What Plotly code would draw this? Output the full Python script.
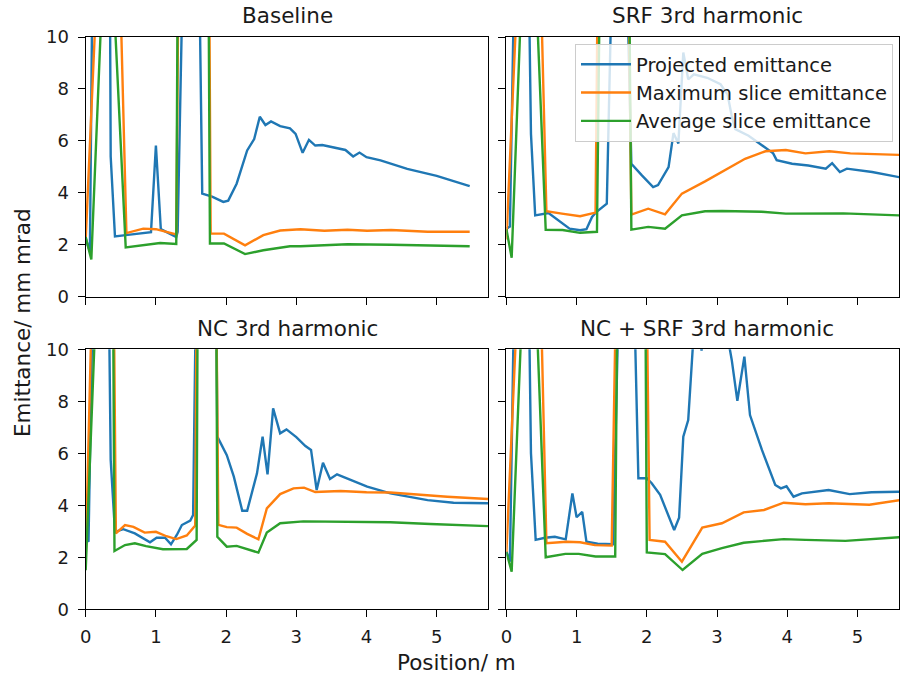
import plotly.graph_objects as go

# ---------------- data (position in m, emittance in mm mrad) ----------------
series_names = ["Projected emittance", "Maximum slice emittance", "Average slice emittance"]
panel_titles = ["Baseline", "SRF 3rd harmonic", "NC 3rd harmonic", "NC + SRF 3rd harmonic"]

# Baseline
base_proj_x = [0, 0.06, 0.095, 0.345, 0.356, 0.417, 0.6, 0.85, 0.93, 1.0, 1.07, 1.29, 1.31, 1.38, 1.62, 1.66,
               1.8, 1.96, 2.03, 2.15, 2.3, 2.4, 2.48, 2.56, 2.64, 2.77, 2.91, 2.99, 3.03, 3.09, 3.18, 3.27,
               3.37, 3.5, 3.7, 3.81, 3.9, 4.0, 4.2, 4.58, 4.75, 5.0, 5.47]
base_proj_y = [2.25, 1.73, 12, 12, 5.4, 2.32, 2.38, 2.45, 2.48, 5.82, 2.6, 2.3, 2.5, 12, 12, 3.97,
               3.85, 3.65, 3.7, 4.35, 5.63, 6.07, 6.93, 6.61, 6.75, 6.57, 6.48, 6.27, 5.95, 5.54, 6.04, 5.82,
               5.84, 5.76, 5.65, 5.4, 5.55, 5.37, 5.25, 4.92, 4.81, 4.65, 4.26]
base_max_x = [0, 0.16, 0.49, 0.58, 0.82, 1.0, 1.29, 1.32, 1.76, 1.78, 1.97, 2.27, 2.53, 2.77, 3.06, 3.4,
              3.73, 4.01, 4.35, 4.87, 5.47]
base_max_y = [2.2, 12, 12, 2.45, 2.62, 2.6, 2.4, 12, 12, 2.43, 2.43, 1.98, 2.37, 2.55, 2.6, 2.54,
              2.58, 2.54, 2.57, 2.5, 2.5]
base_avg_x = [0, 0.08, 0.24, 0.39, 0.57, 0.82, 1.06, 1.29, 1.31, 1.75, 1.77, 1.97, 2.27, 2.53, 2.91,
              3.06, 3.73, 4.35, 5.47]
base_avg_y = [2.3, 1.43, 12, 12, 1.9, 2.0, 2.07, 2.03, 12, 12, 2.05, 2.05, 1.64, 1.79, 1.94,
              1.94, 2.02, 2.0, 1.94]

# SRF 3rd harmonic
srf_proj_x = [0, 0.05, 0.11, 0.32, 0.35, 0.41, 0.6, 0.74, 0.9, 1.05, 1.14, 1.22, 1.28, 1.43, 1.5, 1.72,
              1.78, 1.93, 2.09, 2.16, 2.31, 2.38, 2.45, 2.52, 2.59, 2.67, 2.86, 3.05, 3.15, 3.21, 3.26,
              3.45, 3.62, 3.8, 3.85, 4.07, 4.3, 4.55, 4.64, 4.75, 4.85, 5.21, 5.6]
srf_proj_y = [2.62, 2.7, 12, 12, 6.27, 3.13, 3.22, 2.94, 2.62, 2.56, 2.6, 3.07, 3.26, 3.58, 12, 12,
              5.12, 4.67, 4.22, 4.3, 4.99, 6.3, 5.9, 9.4, 8.37, 8.56, 8.43, 8.18, 7.79, 6.96, 6.45,
              6.2, 5.88, 5.52, 5.26, 5.12, 5.05, 4.93, 5.14, 4.8, 4.93, 4.8, 4.6]
srf_max_x = [0, 0.16, 0.49, 0.57, 0.79, 1.05, 1.27, 1.3, 1.74, 1.78, 2.02, 2.26, 2.5, 2.83, 3.4, 3.69,
             3.98, 4.26, 4.6, 4.9, 5.6]
srf_max_y = [2.2, 12, 12, 3.29, 3.2, 3.1, 3.24, 12, 12, 3.16, 3.39, 3.17, 3.97, 4.44, 5.31, 5.6,
             5.65, 5.52, 5.6, 5.52, 5.46]
srf_avg_x = [0, 0.075, 0.22, 0.42, 0.56, 0.8, 1.05, 1.29, 1.33, 1.75, 1.78, 2.02, 2.26, 2.5, 2.83,
             3.07, 3.64, 3.98, 4.8, 5.6]
srf_avg_y = [2.6, 1.5, 12, 12, 2.58, 2.57, 2.46, 2.5, 12, 12, 2.58, 2.69, 2.62, 3.13, 3.29,
             3.3, 3.27, 3.2, 3.21, 3.13]

# NC 3rd harmonic
nc_proj_x = [0, 0.04, 0.1, 0.33, 0.356, 0.417, 0.536, 0.7, 0.916, 1.01, 1.13, 1.215, 1.3, 1.37, 1.49,
             1.53, 1.57, 1.86, 1.875, 2.01, 2.11, 2.23, 2.3, 2.44, 2.52, 2.59, 2.67, 2.77, 2.86, 3.0,
             3.13, 3.21, 3.29, 3.38, 3.48, 3.58, 4.01, 4.34, 4.87, 5.24, 5.73]
nc_proj_y = [2.7, 2.6, 12, 12, 5.74, 2.98, 3.08, 2.92, 2.58, 2.75, 2.75, 2.5, 2.87, 3.24, 3.41,
             3.63, 12, 12, 6.64, 5.93, 5.1, 3.79, 3.79, 5.23, 6.64, 5.19, 7.73, 6.77, 6.92, 6.62,
             6.28, 6.13, 4.59, 5.64, 5.01, 5.19, 4.72, 4.46, 4.2, 4.1, 4.08]
nc_max_x = [0, 0.09, 0.40, 0.43, 0.56, 0.68, 0.84, 1.0, 1.15, 1.29, 1.44, 1.56, 1.58, 1.86, 1.89, 2.01,
            2.15, 2.3, 2.46, 2.58, 2.77, 2.96, 3.11, 3.27, 3.63, 4.0, 4.34, 4.68, 5.15, 5.73]
nc_max_y = [2.0, 12, 12, 2.92, 3.24, 3.17, 2.95, 2.98, 2.81, 2.7, 2.84, 3.22, 12, 12, 3.25, 3.16,
            3.14, 2.9, 2.69, 3.88, 4.43, 4.65, 4.68, 4.51, 4.55, 4.5, 4.49, 4.42, 4.33, 4.24]
nc_avg_x = [0, 0.15, 0.39, 0.41, 0.56, 0.7, 0.86, 1.1, 1.44, 1.58, 1.595, 1.86, 1.875, 2.01, 2.15, 2.3,
            2.46, 2.58, 2.77, 3.1, 4.34, 4.91, 5.73]
nc_avg_y = [1.5, 12, 12, 2.24, 2.47, 2.54, 2.43, 2.31, 2.32, 2.67, 12, 12, 2.79, 2.41, 2.44, 2.32,
            2.18, 2.95, 3.31, 3.38, 3.35, 3.28, 3.2]

# NC + SRF 3rd harmonic
ncsrf_proj_x = [0, 0.05, 0.11, 0.32, 0.35, 0.417, 0.55, 0.69, 0.845, 0.94, 1.0, 1.08, 1.14, 1.3, 1.52,
                1.6, 1.82, 1.88, 2.0, 2.07, 2.19, 2.31, 2.39, 2.46, 2.52, 2.59, 2.66, 2.7, 2.76, 2.78,
                2.8, 2.9, 3.1, 3.17, 3.21, 3.29, 3.39, 3.47, 3.64, 3.83, 3.91, 3.99, 4.09, 4.21, 4.59,
                4.89, 5.2, 5.6]
ncsrf_proj_y = [2.22, 1.83, 12, 12, 6.0, 2.67, 2.75, 2.79, 2.69, 4.46, 3.54, 3.75, 2.6, 2.52, 2.5,
                12, 12, 5.04, 5.04, 4.85, 4.4, 3.63, 3.05, 3.52, 6.64, 7.28, 10.2, 12, 10.5, 9.95,
                10.5, 12, 12, 10.2, 9.59, 8.02, 9.72, 7.47, 6.13, 4.78, 4.65, 4.73, 4.33, 4.46, 4.59,
                4.43, 4.5, 4.52]
ncsrf_max_x = [0, 0.16, 0.49, 0.57, 0.86, 1.05, 1.26, 1.5, 1.56, 2.0, 2.04, 2.26, 2.5, 2.79, 3.07,
               3.38, 3.67, 3.95, 4.26, 4.59, 5.17, 5.6]
ncsrf_max_y = [2.2, 12, 12, 2.54, 2.6, 2.58, 2.47, 2.45, 12, 12, 2.67, 2.6, 1.83, 3.14, 3.31,
               3.73, 3.82, 4.1, 4.04, 4.08, 4.02, 4.2]
ncsrf_avg_x = [0, 0.075, 0.23, 0.42, 0.56, 0.84, 1.03, 1.27, 1.55, 1.58, 1.98, 2.0, 2.26, 2.51, 2.79,
               3.07, 3.38, 3.95, 4.26, 4.83, 5.6]
ncsrf_avg_y = [2.2, 1.45, 12, 12, 2.0, 2.13, 2.13, 2.03, 2.03, 12, 12, 2.19, 2.12, 1.51, 2.13,
               2.35, 2.56, 2.7, 2.67, 2.63, 2.77]

y_ticks = [0, 2, 4, 6, 8, 10]
x_ticks = [0, 1, 2, 3, 4, 5]

# ---------------- figure ----------------
colors = ["#1f77b4", "#ff7f0e", "#2ca02c"]
FONT = "DejaVu Sans"
TXT = "#1a1a1a"
W, H = 900, 679

panels = [
    [(base_proj_x, base_proj_y), (base_max_x, base_max_y), (base_avg_x, base_avg_y)],
    [(srf_proj_x, srf_proj_y), (srf_max_x, srf_max_y), (srf_avg_x, srf_avg_y)],
    [(nc_proj_x, nc_proj_y), (nc_max_x, nc_max_y), (nc_avg_x, nc_avg_y)],
    [(ncsrf_proj_x, ncsrf_proj_y), (ncsrf_max_x, ncsrf_max_y), (ncsrf_avg_x, ncsrf_avg_y)],
]

fig = go.Figure()
for p, series in enumerate(panels):
    ax = "" if p == 0 else str(p + 1)
    for s, (xs, ys) in enumerate(series):
        fig.add_trace(go.Scatter(
            x=xs, y=ys, mode="lines", name=series_names[s],
            line=dict(color=colors[s], width=2.4),
            xaxis="x" + ax, yaxis="y" + ax,
            legendgroup=series_names[s], showlegend=(p == 1),
        ))

# pixel geometry
left_x = (85.7 / W, 488.3 / W)
right_x = (506.4 / W, 899.0 / W)
top_y = (1 - 296.7 / H, 1 - 37.0 / H)
bot_y = (1 - 609.3 / H, 1 - 349.3 / H)
px_per_unit = 70.2

common_x = dict(showline=True, mirror=True, linecolor="black", linewidth=1.3,
                ticks="outside", ticklen=7, tickwidth=1.3, tickcolor="black",
                tickvals=x_ticks, showgrid=False, zeroline=False, automargin=False,
                ticklabelstandoff=4,
                tickfont=dict(family=FONT, size=18, color=TXT))
common_y = dict(showline=True, mirror=True, linecolor="black", linewidth=1.3,
                ticks="outside", ticklen=7, tickwidth=1.3, tickcolor="black",
                tickvals=y_ticks, range=[0, 10], showgrid=False, zeroline=False, automargin=False,
                ticklabelstandoff=5,
                tickfont=dict(family=FONT, size=18, color=TXT))

xr_left = [0, (left_x[1] - left_x[0]) * W / px_per_unit]
xr_right = [0, (right_x[1] - right_x[0]) * W / px_per_unit]

fig.update_layout(
    xaxis=dict(common_x, domain=left_x, range=xr_left, anchor="y", showticklabels=False),
    yaxis=dict(common_y, domain=top_y, anchor="x"),
    xaxis2=dict(common_x, domain=right_x, range=xr_right, anchor="y2", showticklabels=False),
    yaxis2=dict(common_y, domain=top_y, anchor="x2", showticklabels=False),
    xaxis3=dict(common_x, domain=left_x, range=xr_left, anchor="y3"),
    yaxis3=dict(common_y, domain=bot_y, anchor="x3"),
    xaxis4=dict(common_x, domain=right_x, range=xr_right, anchor="y4"),
    yaxis4=dict(common_y, domain=bot_y, anchor="x4", showticklabels=False),
)

title_pos = [(287, 15), (707, 15), (287, 328), (707, 328)]
annotations = []
for t, (cx, cy) in zip(panel_titles, title_pos):
    annotations.append(dict(text=t, x=cx / W, y=1 - cy / H, xref="paper", yref="paper",
                            xanchor="center", yanchor="middle", showarrow=False,
                            font=dict(family=FONT, size=21.5, color=TXT)))
annotations.append(dict(text="Emittance/ mm mrad", x=22 / W, y=1 - 323 / H, xref="paper", yref="paper",
                        xanchor="center", yanchor="middle", textangle=-90, showarrow=False,
                        font=dict(family=FONT, size=21.5, color=TXT)))
annotations.append(dict(text="Position/ m", x=456 / W, y=1 - 662 / H, xref="paper", yref="paper",
                        xanchor="center", yanchor="middle", showarrow=False,
                        font=dict(family=FONT, size=21.5, color=TXT)))

fig.update_layout(
    width=W, height=H, margin=dict(l=0, r=0, t=0, b=0, autoexpand=False),
    paper_bgcolor="white", plot_bgcolor="white",
    annotations=annotations,
    showlegend=True,
    legend=dict(x=575 / W, y=1 - 44 / H, xanchor="left", yanchor="top",
                bgcolor="rgba(255,255,255,0.8)", bordercolor="#cccccc", borderwidth=1,
                font=dict(family=FONT, size=19.5, color=TXT),
                itemwidth=50, tracegroupgap=0),
)

fig.write_html("out.html", config={"displayModeBar": False},
               post_script="document.body.style.margin='0px';document.body.style.padding='0px';")
